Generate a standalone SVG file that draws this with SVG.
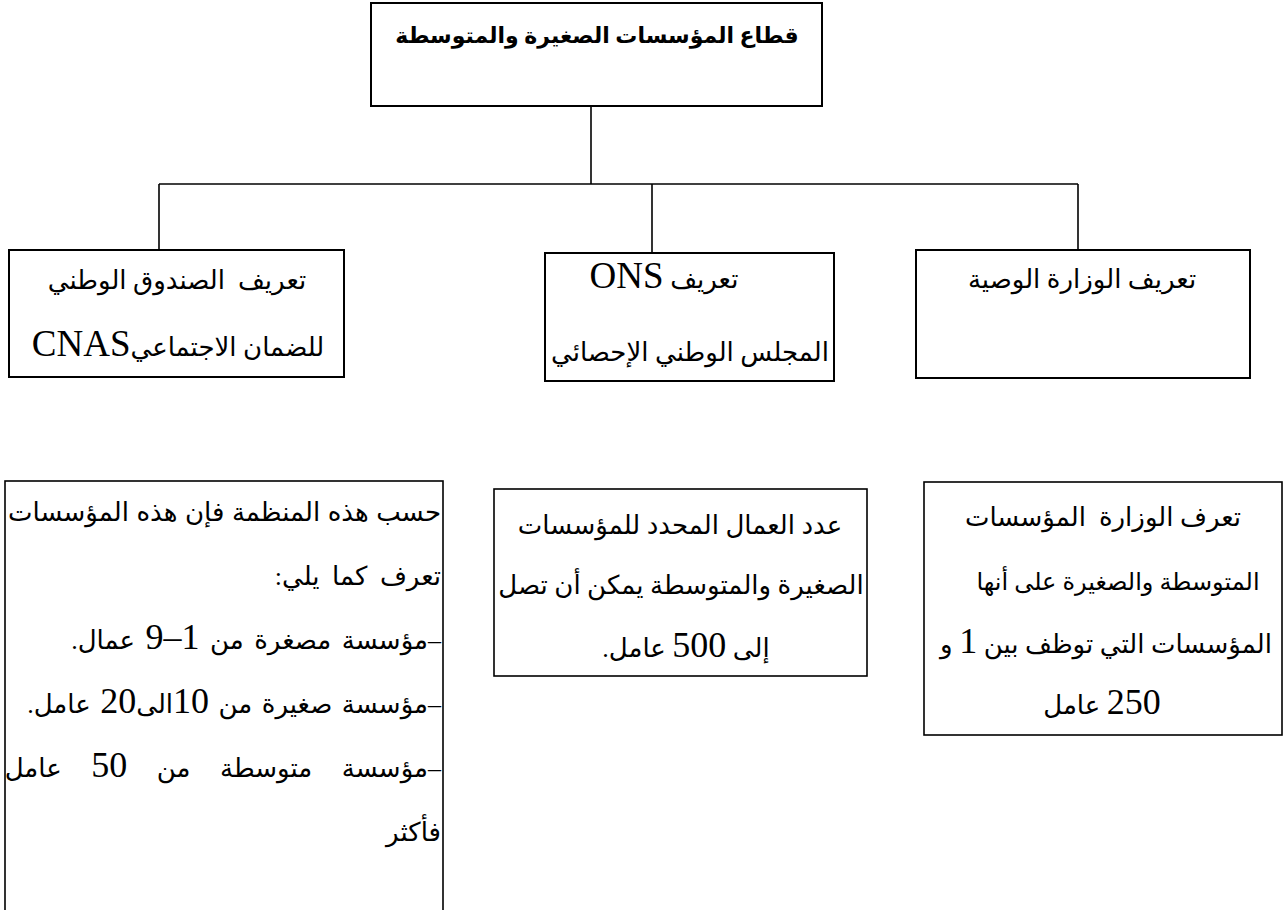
<svg xmlns="http://www.w3.org/2000/svg" width="1284" height="910" viewBox="0 0 1284 910">
<style>
.box{fill:#fff;stroke:#000;stroke-width:2}
.thin{fill:#fff;stroke:#000;stroke-width:1.6}
.conn line{stroke:#000;stroke-width:1.6}
text{font-family:"Liberation Serif","DejaVu Sans",serif;font-size:26px;fill:#000}
.lat{font-family:"Liberation Serif",serif;font-size:37px}
.num{font-family:"Liberation Serif",serif;font-size:36px}
.title{font-weight:bold;font-size:22px}
.pre{white-space:pre}
</style>
<rect width="1284" height="910" fill="#fff"/>
<g class="conn" id="connectors">
<line x1="591" y1="106" x2="591" y2="184"/>
<line x1="159" y1="184" x2="1078" y2="184"/>
<line x1="159" y1="184" x2="159" y2="250"/>
<line x1="652" y1="184" x2="652" y2="253"/>
<line x1="1078" y1="184" x2="1078" y2="250"/>
</g>
<g id="root">
<rect class="box" x="371" y="3" width="451" height="103"/>
<text class="title" x="597" y="43" text-anchor="middle" direction="rtl">قطاع المؤسسات الصغيرة والمتوسطة</text>
</g>
<g id="cnas">
<rect class="box" x="9" y="250" width="335" height="127"/>
<text class="pre" x="177" y="289" text-anchor="middle" direction="rtl">تعريف  الصندوق الوطني</text>
<text x="178" y="356" text-anchor="middle" direction="rtl">للضمان الاجتماعي<tspan class="lat">CNAS</tspan></text>
</g>
<g id="ons">
<rect class="box" x="545" y="253" width="289" height="128"/>
<text x="664" y="288" text-anchor="middle" direction="rtl">تعريف <tspan class="lat">ONS</tspan></text>
<text x="690" y="361" text-anchor="middle" direction="rtl">المجلس الوطني الإحصائي</text>
</g>
<g id="ministry">
<rect class="box" x="916" y="250" width="334" height="128"/>
<text x="1082" y="288" text-anchor="middle" direction="rtl">تعريف الوزارة الوصية</text>
</g>
<g id="cnas-def">
<rect class="thin" x="5" y="481" width="438" height="440"/>
<text x="441" y="521" direction="rtl" text-anchor="start" word-spacing="1">حسب هذه المنظمة فإن هذه المؤسسات</text>
<text x="441" y="585" direction="rtl" text-anchor="start" word-spacing="6">تعرف كما يلي:</text>
<text x="441" y="649" direction="rtl" text-anchor="start" word-spacing="4">–مؤسسة مصغرة من <tspan class="num">1–9</tspan> عمال.</text>
<text x="441" y="713" direction="rtl" text-anchor="start" word-spacing="3">–مؤسسة صغيرة من <tspan class="num">10</tspan>الى<tspan class="num">20</tspan> عامل.</text>
<text x="441" y="777" direction="rtl" text-anchor="start" word-spacing="23">–مؤسسة متوسطة من <tspan class="num">50</tspan> عامل</text>
<text x="441" y="841" direction="rtl" text-anchor="start">فأكثر</text>
</g>
<g id="ons-def">
<rect class="thin" x="494" y="489" width="373" height="187"/>
<text x="680" y="534" text-anchor="middle" direction="rtl">عدد العمال المحدد للمؤسسات</text>
<text x="681" y="594" text-anchor="middle" direction="rtl">الصغيرة والمتوسطة يمكن أن تصل</text>
<text x="686" y="657" text-anchor="middle" direction="rtl">إلى <tspan class="num">500</tspan> عامل.</text>
</g>
<g id="ministry-def">
<rect class="thin" x="924" y="482" width="358" height="253"/>
<text class="pre" x="1103" y="526" text-anchor="middle" direction="rtl">تعرف الوزارة  المؤسسات</text>
<text x="1118" y="590" text-anchor="middle" direction="rtl" style="font-size:24px">المتوسطة والصغيرة على أنها</text>
<text x="1106" y="653" text-anchor="middle" direction="rtl">المؤسسات التي توظف بين <tspan class="num">1</tspan> و</text>
<text x="1102" y="714" text-anchor="middle" direction="rtl"><tspan class="num">250</tspan> عامل</text>
</g>
</svg>
